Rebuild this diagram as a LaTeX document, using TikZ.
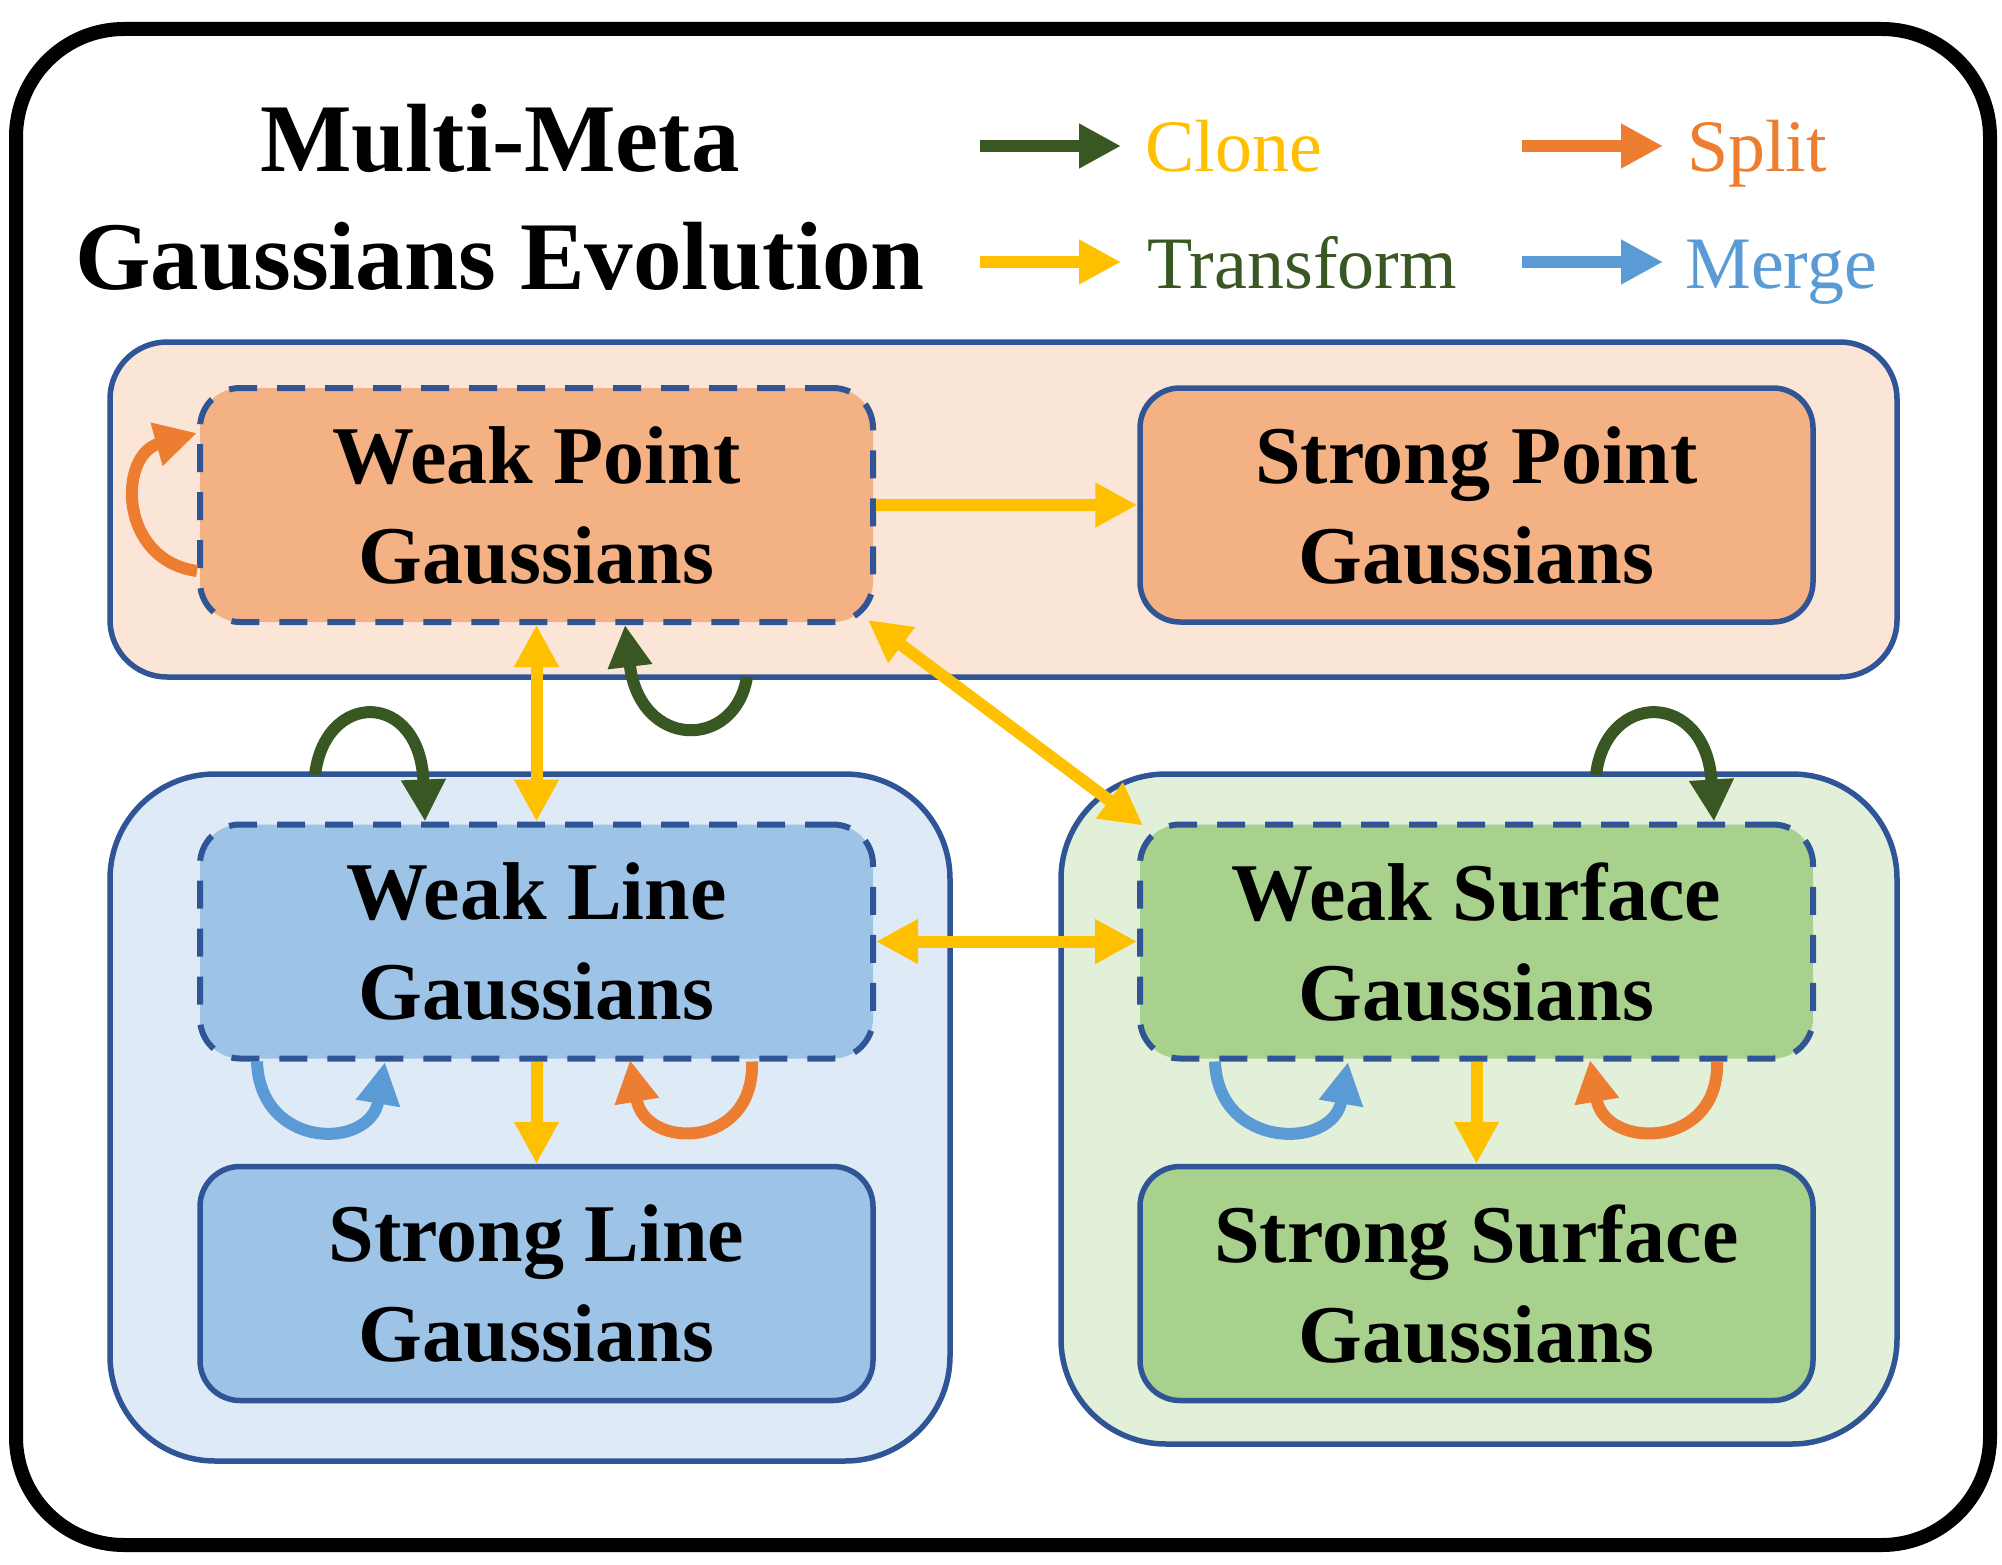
\documentclass[tikz,border=0pt]{standalone}
\usepackage{fontspec}
\setmainfont{Liberation Serif}
\usetikzlibrary{arrows.meta,calc}
\definecolor{bdr}{HTML}{2F5597}
\definecolor{cgreen}{HTML}{385723}
\definecolor{cgold}{HTML}{FFC000}
\definecolor{corange}{HTML}{ED7D31}
\definecolor{cblue}{HTML}{5B9BD5}
\definecolor{pgrp}{HTML}{FBE5D6}
\definecolor{pbox}{HTML}{F4B183}
\definecolor{bgrp}{HTML}{DEEBF7}
\definecolor{bbox}{HTML}{9DC3E6}
\definecolor{ggrp}{HTML}{E2F0D9}
\definecolor{gbox}{HTML}{A9D18E}
\tikzset{
  box/.style={draw=bdr, line width=5.5pt, rounded corners=40pt, minimum width=673pt,
    minimum height=234pt, inner sep=0pt, align=center,
    font=\bfseries\fontsize{82}{100}\selectfont, text depth=0pt},
  weakbox/.style={box, line width=6pt, dash pattern=on 28pt off 20pt},
  grp/.style={draw=bdr, line width=5.5pt},
  arr/.style={line width=12pt, -{Triangle[length=42pt,width=42pt]}},
  darr/.style={line width=12pt, {Triangle[length=42pt,width=42pt]}-{Triangle[length=42pt,width=42pt]}},
  legtxt/.style={anchor=base west, inner sep=0pt, font=\fontsize{74}{80}\selectfont},
  ttl/.style={anchor=base, inner sep=0pt, font=\bfseries\fontsize{97}{110}\selectfont},
}
\begin{document}
\begin{tikzpicture}[x=1pt,y=-1pt]
\useasboundingbox (0,0) rectangle (2002,1565);
\fill[white] (0,0) rectangle (2002,1565);
% outer frame
\draw[line width=14pt, rounded corners=108pt] (16,29) rectangle (1990,1545);
% title
\node[ttl] (t1) at (500,172) {Multi-Meta};
\node[ttl] (t2) at (500,289) {Gaussians Evolution};
% legend
\coordinate (lc1) at (980,146); \coordinate (lc2) at (1121,146);
\coordinate (lt1) at (980,262); \coordinate (lt2) at (1121,262);
\coordinate (ls1) at (1522,146); \coordinate (ls2) at (1663,146);
\coordinate (lm1) at (1522,262); \coordinate (lm2) at (1663,262);
\draw[arr, cgreen] (lc1) -- (lc2);
\draw[arr, cgold] (lt1) -- (lt2);
\draw[arr, corange] (ls1) -- (ls2);
\draw[arr, cblue] (lm1) -- (lm2);
\node[legtxt, text=cgold] (lclone) at (1145,172) {Clone};
\node[legtxt, text=cgreen] (ltrans) at (1147,288) {Transform};
\node[legtxt, text=corange] (lsplit) at (1687,172) {Split};
\node[legtxt, text=cblue] (lmerge) at (1685,288) {Merge};
% groups
\draw[grp, fill=pgrp, rounded corners=57pt] (110,342) rectangle (1897,677);
\draw[grp, fill=bgrp, rounded corners=105pt] (110,774) rectangle (950,1461);
\draw[grp, fill=ggrp, rounded corners=105pt] (1061,774) rectangle (1897,1444);
% boxes
\node[weakbox, fill=pbox] (wp) at (536.5,505) {Weak Point\\Gaussians};
\node[box, fill=pbox] (sp) at (1476.5,505) {Strong Point\\Gaussians};
\node[weakbox, fill=bbox] (wl) at (536.5,941.5) {Weak Line\\Gaussians};
\node[box, fill=bbox] (sl) at (536.5,1283.5) {Strong Line\\Gaussians};
\node[weakbox, fill=gbox] (ws) at (1476.5,941.5) {Weak Surface\\Gaussians};
\node[box, fill=gbox] (ss) at (1476.5,1283.5) {Strong Surface\\Gaussians};
% straight transform arrows
\draw[arr, cgold] (wp.east) -- (sp.west);
\draw[darr, cgold] (wp.south) -- (wl.north);
\draw[darr, cgold] ($(wp.south east)+(-8,-5)$) -- ($(ws.north west)+(6,4)$);
\draw[darr, cgold] (wl.east) -- (ws.west);
\draw[arr, cgold] (wl.south) -- (sl.north);
\draw[arr, cgold] (ws.south) -- (ss.north);
% loops
\draw[arr, corange] ($(wp.south west)+(0,-54)$) .. controls (118,560) and (118,455) .. ($(wp.north west)+(0,48)$);
\draw[arr, cgreen] (747,677) .. controls (735,750) and (640,750) .. ($(wp.south west)+(428,0)$);
\draw[arr, cgreen] (315,775) .. controls (325,690) and (420,690) .. ($(wl.north west)+(228,0)$);
\draw[arr, cgreen] (1596,775) .. controls (1606,690) and (1706,690) .. ($(ws.north west)+(577,0)$);
\draw[arr, cblue] ($(wl.south west)+(60,0)$) .. controls (260,1150) and (370,1150) .. (385,1062);
\draw[arr, corange] ($(wl.south west)+(555,0)$) .. controls (755,1150) and (645,1150) .. (630,1060);
\draw[arr, cblue] ($(ws.south west)+(78,0)$) .. controls (1218,1150) and (1333,1150) .. (1348,1062);
\draw[arr, corange] ($(ws.south west)+(580,0)$) .. controls (1720,1150) and (1605,1150) .. (1590,1060);
\end{tikzpicture}
\end{document}
